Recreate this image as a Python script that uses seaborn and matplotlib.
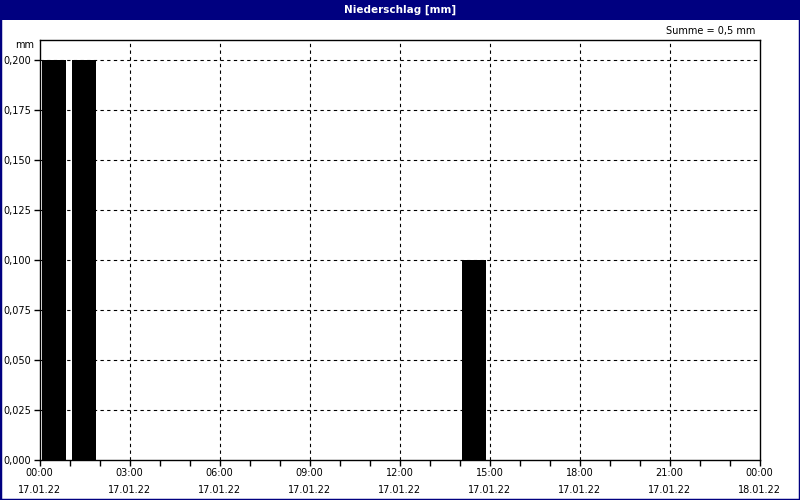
import numpy as np
import pandas as pd
import matplotlib
matplotlib.use("Agg")
import matplotlib.pyplot as plt
import seaborn as sns
from matplotlib.patches import Rectangle
from matplotlib.ticker import MultipleLocator, FuncFormatter

#================================資料===============================
hours = list(range(24))
niederschlag = [0.2, 0.2, 0, 0, 0, 0, 0, 0, 0, 0, 0, 0, 0, 0,
                0.1, 0, 0, 0, 0, 0, 0, 0, 0, 0]
tick_hours = [0, 3, 6, 9, 12, 15, 18, 21, 24]
tick_labels = ["00:00\n17.01.22", "03:00\n17.01.22", "06:00\n17.01.22",
               "09:00\n17.01.22", "12:00\n17.01.22", "15:00\n17.01.22",
               "18:00\n17.01.22", "21:00\n17.01.22", "00:00\n18.01.22"]
y_ticks = [0, 0.025, 0.05, 0.075, 0.1, 0.125, 0.15, 0.175, 0.2]
#======================================================================

df = pd.DataFrame({"pos": [h + 0.48 for h in hours], "mm": niederschlag})

sns.set_style("white")
plt.rcParams['font.family'] = ['DejaVu Sans']
plt.rcParams['text.color'] = "black"
plt.rcParams['xtick.color'] = "black"
plt.rcParams['ytick.color'] = "black"

fig = plt.figure(figsize=(8, 5), dpi=100)
ax = fig.add_axes([39.5 / 800, 40 / 500, 720 / 800, 420 / 500])

sns.barplot(data=df, x="pos", y="mm", native_scale=True, width=0.8,
            color="black", edgecolor="none", ax=ax)

ax.set_xlim(0, 24)
ax.set_ylim(0, 0.21)
ax.set_xticks(tick_hours)
ax.set_xticklabels(tick_labels, fontsize=7, linespacing=1.85, color="black")
ax.xaxis.set_minor_locator(MultipleLocator(1))
ax.set_yticks(y_ticks)
ax.yaxis.set_major_formatter(FuncFormatter(lambda v, p: f"{v:.3f}".replace(".", ",")))
ax.tick_params(axis="y", labelsize=7, length=4, width=1, direction="out", pad=2, labelcolor="black")
ax.tick_params(axis="x", which="major", length=4, width=1, direction="out", pad=2)
ax.tick_params(axis="x", which="minor", length=4, width=1, direction="out")
ax.tick_params(left=True, bottom=True, which="both")
ax.set_xlabel("")
ax.set_ylabel("")

# 網格線 (虛線)
for yv in y_ticks[1:]:
    ax.axhline(yv, color="black", lw=0.8, ls=(0, (3, 3)), zorder=0)
for xv in tick_hours[1:-1]:
    ax.axvline(xv, color="black", lw=0.8, ls=(0, (3, 3)), zorder=0)

for s in ax.spines.values():
    s.set_color("black")
    s.set_linewidth(1)
    s.set_visible(True)

# 標題列與外框
fig.patches.append(Rectangle((0, 480 / 500), 1, 20 / 500, transform=fig.transFigure,
                             facecolor="#000080", edgecolor="none", zorder=0))
fig.patches.append(Rectangle((0, 0), 1, 1, transform=fig.transFigure,
                             facecolor="none", edgecolor="#000080", lw=2.5, zorder=5))
fig.text(0.5, 490 / 500, "Niederschlag [mm]", color="white", fontsize=7.5,
         fontweight="bold", ha="center", va="center")
fig.text(755 / 800, 1 - 31 / 500, "Summe = 0,5 mm", fontsize=7, ha="right", va="center")
fig.text(34 / 800, 1 - 45 / 500, "mm", fontsize=7, ha="right", va="center")

plt.savefig("out.png", dpi=100)
plt.close()
